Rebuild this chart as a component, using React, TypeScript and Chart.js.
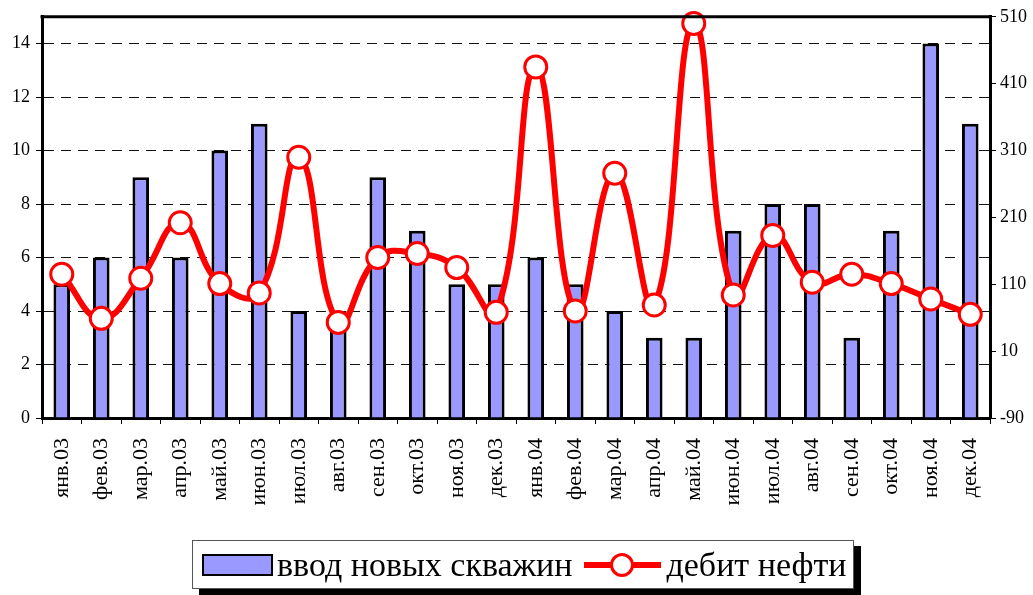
import React, { useEffect, useRef } from "react";
import { Chart, registerables } from "chart.js";

Chart.register(...registerables);

const months: string[] = [
  "янв.03", "фев.03", "мар.03", "апр.03", "май.03", "июн.03", "июл.03", "авг.03",
  "сен.03", "окт.03", "ноя.03", "дек.03", "янв.04", "фев.04", "мар.04", "апр.04",
  "май.04", "июн.04", "июл.04", "авг.04", "сен.04", "окт.04", "ноя.04", "дек.04",
];

const newWells: number[] = [5, 6, 9, 6, 10, 11, 4, 4, 9, 7, 5, 5, 6, 5, 4, 3, 3, 7, 8, 8, 3, 7, 14, 11];

const oilRate: number[] = [125, 59, 119, 202, 111, 97, 300, 53, 150, 156, 135, 68, 435, 70, 276, 79, 500, 94, 183, 113, 125, 111, 88, 65];

const leftMin = 0;
const leftMax = 15;
const leftStep = 2;
const rightMin = -90;
const rightMax = 510;
const rightStep = 100;

const barLabel = "ввод новых скважин";
const lineLabel = "дебит нефти";

const FONT = "'Liberation Serif', 'Times New Roman', serif";

const frame = {
  id: "frame",
  afterDatasetsDraw(chart: any) {
    const { ctx, chartArea } = chart;
    ctx.save();
    ctx.strokeStyle = "#000";
    ctx.lineWidth = 3;
    ctx.beginPath();
    ctx.moveTo(chartArea.left - 1.5, chartArea.top);
    ctx.lineTo(chartArea.right + 1.5, chartArea.top);
    ctx.stroke();
    ctx.restore();
  },
};

export default function App() {
  const ref = useRef<HTMLCanvasElement | null>(null);

  useEffect(() => {
    if (!ref.current) return;
    const chart = new Chart(ref.current, {
      type: "bar",
      data: {
        labels: months,
        datasets: [
          {
            type: "line",
            label: lineLabel,
            data: oilRate,
            yAxisID: "y2",
            borderColor: "#FF0000",
            borderWidth: 6,
            pointRadius: 11,
            pointBorderWidth: 3,
            pointBorderColor: "#FF0000",
            pointBackgroundColor: "#FFFFFF",
            tension: 0.45,
            fill: false,
            clip: false,
            order: 0,
          } as any,
          {
            type: "bar",
            label: barLabel,
            data: newWells,
            yAxisID: "y",
            backgroundColor: "#9999FF",
            borderColor: "#000000",
            borderWidth: 3,
            borderSkipped: "bottom",
            barPercentage: 0.42,
            categoryPercentage: 1,
            order: 1,
          } as any,
        ],
      },
      options: {
        responsive: true,
        maintainAspectRatio: false,
        animation: false,
        layout: { padding: { top: 16, left: 0, right: 0, bottom: 0 } },
        plugins: {
          legend: { display: false },
          tooltip: { enabled: false },
        },
        scales: {
          x: {
            offset: true,
            grid: {
              offset: true,
              drawOnChartArea: false,
              drawTicks: true,
              tickLength: 6,
              color: "#000",
              lineWidth: 1,
            },
            border: { color: "#000", width: 3 },
            ticks: {
              autoSkip: false,
              minRotation: 90,
              maxRotation: 90,
              padding: 14,
              color: "#000",
              font: { family: FONT, size: 22 },
            },
            afterFit(scale: any) {
              scale.height = 177;
            },
          },
          y: {
            position: "left",
            min: leftMin,
            max: leftMax,
            ticks: {
              stepSize: leftStep,
              padding: 6,
              color: "#000",
              font: { family: FONT, size: 18 },
            },
            afterBuildTicks(scale: any) {
              scale.ticks = scale.ticks.filter((t: any) => t.value <= 14);
            },
            grid: {
              color: "#111",
              lineWidth: 1,
              tickLength: 6,
              tickColor: "#000",
            },
            border: { color: "#000", width: 3, dash: [10, 7] } as any,
            afterFit(scale: any) {
              scale.width = 42;
            },
          },
          y2: {
            position: "right",
            min: rightMin,
            max: rightMax,
            ticks: {
              stepSize: rightStep,
              padding: 4,
              color: "#000",
              font: { family: FONT, size: 18 },
            },
            grid: {
              drawOnChartArea: false,
              tickLength: 6,
              color: "#000",
            },
            border: { color: "#000", width: 3 },
            afterFit(scale: any) {
              scale.width = 43;
            },
          },
        },
      } as any,
      plugins: [frame],
    });
    return () => chart.destroy();
  }, []);

  return (
    <div style={{ position: "absolute", left: 0, top: 0, width: 1033, height: 595, background: "#fff" }}>
      <canvas ref={ref} />
      <div
        style={{
          position: "absolute",
          left: 192,
          top: 540,
          width: 662,
          height: 49,
          border: "1px solid #555",
          background: "#fff",
          boxShadow: "7px 6px 0 #000",
          display: "flex",
          alignItems: "center",
          fontFamily: FONT,
          fontSize: 34,
          color: "#000",
          boxSizing: "border-box",
        }}
      >
        <div
          style={{
            marginLeft: 9,
            width: 71,
            height: 22,
            background: "#9999FF",
            border: "2px solid #000",
            boxSizing: "border-box",
            flex: "none",
          }}
        />
        <span style={{ marginLeft: 4, whiteSpace: "nowrap" }}>{barLabel}</span>
        <div style={{ position: "relative", marginLeft: 12, width: 77, height: 24, flex: "none" }}>
          <div style={{ position: "absolute", left: 0, right: 0, top: 9, height: 6, background: "#FF0000" }} />
          <div
            style={{
              position: "absolute",
              left: 26,
              top: 0,
              width: 24,
              height: 24,
              borderRadius: "50%",
              background: "#fff",
              border: "3px solid #FF0000",
              boxSizing: "border-box",
            }}
          />
        </div>
        <span style={{ marginLeft: 5, whiteSpace: "nowrap" }}>{lineLabel}</span>
      </div>
    </div>
  );
}
